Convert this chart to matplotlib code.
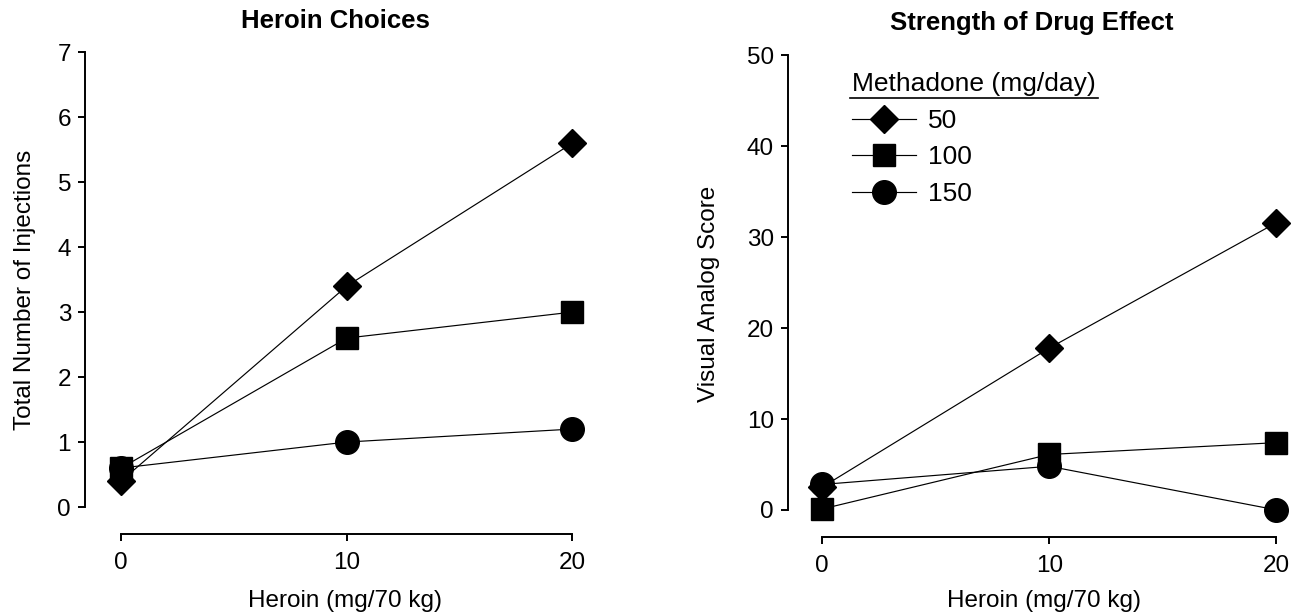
import matplotlib.pyplot as plt
from matplotlib.lines import Line2D

plt.rcParams['font.family'] = ['Liberation Sans', 'DejaVu Sans']

heroin = [0, 10, 20]
doses = ['50', '100', '150']
markers = ['D', 's', 'o']
msizes = [14, 16, 17]

# total number of injections (left panel)
inj_50 = [0.4, 3.4, 5.6]
inj_100 = [0.6, 2.6, 3.0]
inj_150 = [0.6, 1.0, 1.2]

# visual analog score (right panel)
vas_50 = [2.5, 17.8, 31.6]
vas_100 = [0.1, 6.1, 7.4]
vas_150 = [2.8, 4.8, 0.0]

W, H = 1305, 615
fig = plt.figure(figsize=(W / 100, H / 100), dpi=100)
ax1 = fig.add_axes([85 / W, 1 - 534 / H, (595 - 85) / W, (534 - 45) / H])
ax2 = fig.add_axes([788 / W, 1 - 537 / H, (1290 - 788) / W, (537 - 50) / H])


def style(ax, ymax, yticks, xlim, ylim):
    ax.set_xlim(*xlim)
    ax.set_ylim(*ylim)
    for s in ['top', 'right']:
        ax.spines[s].set_visible(False)
    ax.spines['left'].set_bounds(0, ymax)
    ax.spines['bottom'].set_bounds(0, 20)
    for s in ['left', 'bottom']:
        ax.spines[s].set_linewidth(1.4)
    ax.set_xticks(heroin)
    ax.set_yticks(yticks)
    ax.tick_params(direction='out', length=5, width=1.4, labelsize=17.5)
    ax.tick_params(axis='x', pad=8)
    ax.tick_params(axis='y', pad=5)
    ax.set_xlabel('Heroin (mg/70 kg)', fontsize=17.5)


series1 = [inj_50, inj_100, inj_150]
series2 = [vas_50, vas_100, vas_150]
# square drawn last so it sits on top, as in the original
for i in [0, 2, 1]:
    ax1.plot(heroin, series1[i], color='black', lw=0.85, marker=markers[i],
             ms=msizes[i], mfc='black', mec='black', clip_on=False)
    ax2.plot(heroin, series2[i], color='black', lw=0.85, marker=markers[i],
             ms=msizes[i], mfc='black', mec='black', clip_on=False)

style(ax1, 7, range(0, 8), (-1.6, 21), (-0.415, 7.11))
style(ax2, 50, range(0, 51, 10), (-1.5, 20.6), (-2.98, 50.6))

ax1.set_ylabel('Total Number of Injections', fontsize=17.5)
ax2.set_ylabel('Visual Analog Score', fontsize=17.5)
ax1.yaxis.set_label_coords((36 - 85) / 510, 0.5)
ax2.yaxis.set_label_coords((720 - 788) / 502, 0.5)
ax1.xaxis.set_label_coords(0.51, (534 - 590) / 489)
ax2.xaxis.set_label_coords(0.51, (537 - 590) / 487)

fig.text(335 / W, 1 - 21 / H, 'Heroin Choices', fontsize=18.5,
         fontweight='bold', ha='center', va='center')
fig.text(1032 / W, 1 - 23 / H, 'Strength of Drug Effect', fontsize=18.5,
         fontweight='bold', ha='center', va='center')

handles = [Line2D([], [], color='black', lw=0.85, marker=m, ms=s)
           for m, s in zip(markers, msizes)]
leg = ax2.legend(handles, doses, title='Methadone (mg/day)', loc='upper left',
                 bbox_to_anchor=(0.123, 0.96), frameon=False, fontsize=19,
                 title_fontsize=19, handlelength=2.4, handletextpad=0.45,
                 labelspacing=0.48, borderpad=0.1, borderaxespad=0.0)
leg._legend_box.align = 'left'

fig.canvas.draw()
bb = leg.get_title().get_window_extent()
fig.add_artist(Line2D([bb.x0 - 2, bb.x1 + 2], [bb.y0 - 2, bb.y0 - 2],
                      transform=None, color='black', lw=1.2))

fig.savefig('out.png', dpi=100)
